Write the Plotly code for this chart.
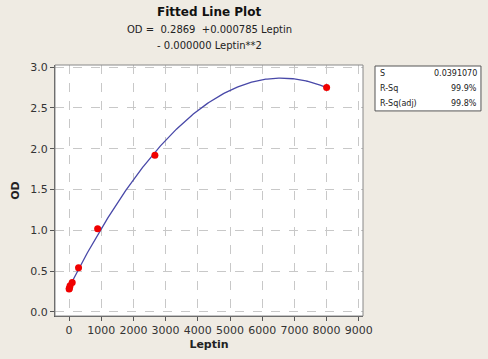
import numpy as np
import plotly.graph_objects as go

leptin = [8000, 2667, 889, 296, 99, 33, 11, 4]
od = [2.75, 1.92, 1.02, 0.54, 0.36, 0.32, 0.29, 0.28]

x_ticks = [0, 1000, 2000, 3000, 4000, 5000, 6000, 7000, 8000, 9000]
y_ticks = [0.0, 0.5, 1.0, 1.5, 2.0, 2.5, 3.0]

stats_labels = ["S", "R-Sq", "R-Sq(adj)"]
stats_values = ["0.0391070", "99.9%", "99.8%"]

# Quadratic regression fitted to the points (as the chart's fitted line)
coef = np.polyfit(leptin, od, 2)
fit_x = np.linspace(0, max(leptin), 200)
fit_y = np.polyval(coef, fit_x)

BG = "#efebe3"
fig = go.Figure()
fig.add_trace(go.Scatter(x=fit_x, y=fit_y, mode="lines",
                         line=dict(color="#4848a8", width=1.3), hoverinfo="skip"))
fig.add_trace(go.Scatter(x=leptin, y=od, mode="markers",
                         marker=dict(color="#f00000", size=7)))

font = "DejaVu Sans, sans-serif"
axis_common = dict(showline=True, linecolor="#555555", linewidth=1, mirror=False,
                   ticks="outside", ticklen=4, tickcolor="#555555",
                   showgrid=True, gridcolor="#c8c8c8", griddash="dash", gridwidth=1,
                   zeroline=False, automargin=False,
                   tickfont=dict(family=font, size=11, color="#333333"))

fig.update_layout(
    width=488, height=359,
    paper_bgcolor=BG, plot_bgcolor="white",
    margin=dict(l=55, r=125, t=65, b=43, autoexpand=False),
    showlegend=False,
    font=dict(family=font, color="#222222"),
    xaxis=dict(range=[-435, 9130], tickvals=x_ticks,
               ticktext=[str(v) for v in x_ticks],
               title=dict(text="<b>Leptin</b>", font=dict(size=11), standoff=4),
               **axis_common),
    yaxis=dict(range=[-0.05, 3.025], tickvals=y_ticks,
               ticktext=[f"{v:.1f}" for v in y_ticks],
               title=dict(text="<b>OD</b>", font=dict(size=11), standoff=8),
               **axis_common),
    shapes=[
        dict(type="rect", xref="paper", yref="paper", x0=0, x1=1, y0=0, y1=1,
             line=dict(color="#888888", width=1)),
        dict(type="rect", xref="paper", yref="paper", x0=1.039, x1=1.383, y0=0.817, y1=0.996,
             line=dict(color="#555555", width=1), fillcolor="white"),
    ],
    annotations=[
        dict(text="<b>Fitted Line Plot</b>", xref="paper", yref="paper", x=0.5, y=1.0,
             yshift=53, showarrow=False, font=dict(size=12, color="#111111"),
             xanchor="center", yanchor="middle"),
        dict(text="OD =  0.2869  +0.000785 Leptin", xref="paper", yref="paper", x=0.5, y=1.0,
             yshift=36, showarrow=False, font=dict(size=10, color="#222222"),
             xanchor="center", yanchor="middle"),
        dict(text="- 0.000000 Leptin**2", xref="paper", yref="paper", x=0.5, y=1.0,
             yshift=20, showarrow=False, font=dict(size=10, color="#222222"),
             xanchor="center", yanchor="middle"),
    ],
)

for i, (lab, val) in enumerate(zip(stats_labels, stats_values)):
    fig.add_annotation(text=lab, xref="paper", yref="paper", x=1.05, y=0.968 - i * 0.06,
                       showarrow=False, xanchor="left", yanchor="middle",
                       font=dict(size=8, color="#222222"))
    fig.add_annotation(text=val, xref="paper", yref="paper", x=1.375, y=0.968 - i * 0.06,
                       showarrow=False, xanchor="right", yanchor="middle",
                       font=dict(size=8, color="#222222"))

fig.write_html("out.html", config={"displayModeBar": False, "staticPlot": True},
               post_script="document.body.style.margin='0';document.body.style.overflow='hidden';document.body.style.background='" + BG + "';")
